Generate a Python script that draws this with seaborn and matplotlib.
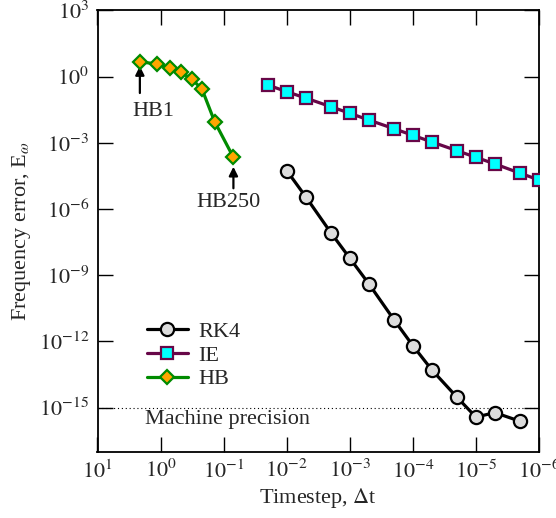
import numpy as np
import pandas as pd
import matplotlib
matplotlib.use("Agg")
import matplotlib.pyplot as plt
import matplotlib.ticker as mticker
import seaborn as sns

# ---- data ----
rk4_dt = [1e-2, 5e-3, 2e-3, 1e-3, 5e-4, 2e-4, 1e-4, 5e-5, 2e-5, 1e-5, 5e-6, 2e-6]
rk4_err = [5.5e-5, 3.6e-6, 8.5e-8, 5.9e-9, 4.1e-10, 9.7e-12, 6.4e-13, 5.1e-14,
           2.95e-15, 3.7e-16, 5.9e-16, 2.4e-16]

ie_dt = [2e-2, 1e-2, 5e-3, 2e-3, 1e-3, 5e-4, 2e-4, 1e-4, 5e-5, 2e-5, 1e-5, 5e-6, 2e-6, 1e-6]
ie_err = [0.417, 0.207, 0.107, 0.0433, 0.0218, 0.0108, 4.36e-3, 2.19e-3, 1.09e-3,
          4.4e-4, 2.2e-4, 1.1e-4, 4.2e-5, 2.07e-5]

hb_dt = [2.13, 1.13, 0.71, 0.48, 0.32, 0.22, 0.139, 0.070]
hb_err = [4.7, 3.7, 2.4, 1.57, 0.78, 0.266, 9.1e-3, 2.2e-4]

machine_eps = 1e-15
x_ticks = [1e1, 1e0, 1e-1, 1e-2, 1e-3, 1e-4, 1e-5, 1e-6]
y_ticks = [1e-15, 1e-12, 1e-9, 1e-6, 1e-3, 1e0, 1e3]

# ---- style ----
sns.set_theme(style="ticks")
plt.rcParams["font.family"] = ["Liberation Serif", "DejaVu Serif"]
plt.rcParams["mathtext.fontset"] = "stix"

fig = plt.figure(figsize=(5.56, 5.18), dpi=100)
ax = fig.add_axes([97.5 / 556, 1 - 451.7 / 518, (539 - 97.5) / 556, (451.7 - 10.4) / 518])

ax.set_xscale("log")
ax.set_yscale("log")

grey = "#dcdcdc"
maroon = "#670748"
cyan = "#00ffff"
orange = "#ffa500"
green = "#008b00"

rk4 = pd.DataFrame({"dt": rk4_dt, "err": rk4_err})
ie = pd.DataFrame({"dt": ie_dt, "err": ie_err})
hb = pd.DataFrame({"dt": hb_dt, "err": hb_err})

sns.lineplot(data=rk4, x="dt", y="err", ax=ax, color="black", lw=2.3, marker="o",
             markersize=9.5, markerfacecolor=grey, markeredgecolor="black",
             markeredgewidth=1.6, label="RK4", zorder=3)
sns.lineplot(data=ie, x="dt", y="err", ax=ax, color=maroon, lw=2.3, marker="s",
             markersize=8, markerfacecolor=cyan, markeredgecolor=maroon,
             markeredgewidth=1.6, label="IE", zorder=3)
sns.lineplot(data=hb, x="dt", y="err", ax=ax, color=green, lw=2.3, marker="D",
             markersize=7, markerfacecolor=orange, markeredgecolor=green,
             markeredgewidth=1.6, label="HB", zorder=4)

ax.axhline(machine_eps, color="black", lw=0.8, ls=(0, (1, 2.5)), zorder=1)
ax.text(0.1076, 10 ** -15.55, "Machine precision", transform=ax.get_yaxis_transform(),
        fontsize=16, va="center", ha="left")

ax.set_xlim(1e1, 1e-6)
ax.set_ylim(1e-17, 1e3)
ax.xaxis.set_major_locator(mticker.FixedLocator(x_ticks))
ax.yaxis.set_major_locator(mticker.FixedLocator(y_ticks))
ax.xaxis.set_minor_locator(mticker.NullLocator())
ax.yaxis.set_minor_locator(mticker.NullLocator())
fmt = mticker.FuncFormatter(lambda v, p: r"$10^{%d}$" % round(np.log10(v)))
ax.xaxis.set_major_formatter(fmt)
ax.yaxis.set_major_formatter(fmt)
ax.tick_params(which="major", direction="in", length=11, width=1.0,
               top=True, right=True, labelsize=16, pad=6, color="black")
for s in ax.spines.values():
    s.set_linewidth(1.3)
    s.set_color("black")

ax.set_xlabel(r"Timestep, $\Delta$t", fontsize=16, labelpad=2)
ax.set_ylabel(r"Frequency error, E$_\omega$", fontsize=16, labelpad=4)

# annotations
arrow = dict(arrowstyle="-|>", color="black", lw=1.6, mutation_scale=13)
ax.annotate("", xy=(hb_dt[0], hb_err[0]), xytext=(0, -22.5), textcoords="offset points",
            arrowprops=dict(arrow, shrinkA=0, shrinkB=3.1))
ax.annotate("HB1", xy=(hb_dt[0], hb_err[0]), xytext=(9.4, -35.5), textcoords="offset points",
            fontsize=16, ha="center", va="center")
ax.annotate("", xy=(hb_dt[-1], hb_err[-1]), xytext=(0, -22.3), textcoords="offset points",
            arrowprops=dict(arrow, shrinkA=0, shrinkB=6.8))
ax.annotate("HB250", xy=(hb_dt[-1], hb_err[-1]), xytext=(-3.8, -32.2), textcoords="offset points",
            fontsize=16, ha="center", va="center")

ax.legend(loc="upper left", bbox_to_anchor=(0.111, 0.295), frameon=False, fontsize=16,
          handlelength=1.85, handletextpad=0.5, labelspacing=0.14, borderpad=0,
          borderaxespad=0)

fig.savefig("out.png", dpi=100)
